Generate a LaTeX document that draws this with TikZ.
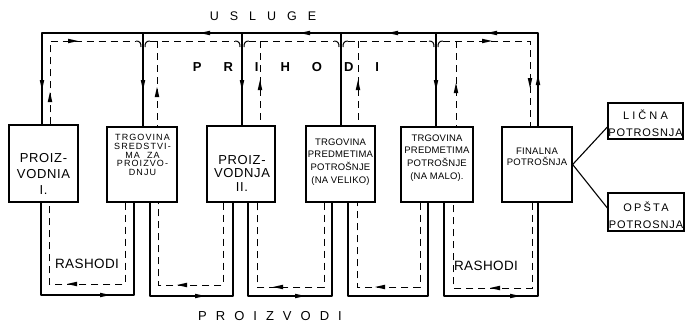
\documentclass[tikz,border=0pt]{standalone}
\usepackage{fontspec}
\setmainfont{Liberation Sans}
\tikzset{
  flow/.style={line width=1.2pt, line join=round},
  ret/.style={line width=1pt, dash pattern=on 7pt off 5pt},
  dip/.style={line width=1pt},
  box/.style={draw, line width=1.3pt, inner sep=0pt},
  head/.style={fill=black},
  lbl/.style={align=center, inner sep=0pt},
  bigtxt/.style={font={\fontsize{13}{16}\selectfont\addfontfeature{LetterSpace=5}}},
  smalltxt/.style={font={\fontsize{9.5}{12.7}\selectfont\addfontfeature{LetterSpace=2}}},
}
\begin{document}
\begin{tikzpicture}[x=1pt,y=-1pt]
\useasboundingbox (0,0) rectangle (685,324);

% boxes
\node[box, minimum width=69pt, minimum height=77pt] (b1) at (43.5,163.5) {};
\node[box, minimum width=70pt, minimum height=75pt] (b2) at (142,164.5) {};
\node[box, minimum width=68pt, minimum height=76pt] (b3) at (241,164) {};
\node[box, minimum width=69pt, minimum height=76pt] (b4) at (340.5,164) {};
\node[box, minimum width=72pt, minimum height=75pt] (b5) at (437,164.5) {};
\node[box, minimum width=70pt, minimum height=75pt] (b6) at (537,164.5) {};
\node[box, minimum width=75pt, minimum height=36pt] (bl) at (645.5,121) {};
\node[box, minimum width=76pt, minimum height=38pt] (bo) at (646,212) {};

% box texts
\node[lbl, bigtxt] (t1) at (43.5,174) {PROIZ-\\VODNIA\\I.};
\node[lbl, font={\fontsize{9}{8.8}\selectfont\addfontfeature{LetterSpace=12}}] (t2) at (142.5,155) {TRGOVINA\\SREDSTVI-\\MA\ \ ZA\\PROIZVO-\\DNJU};
\node[lbl, font={\fontsize{13}{13.5}\selectfont\addfontfeature{LetterSpace=5}}] (t3) at (242,173) {PROIZ-\\VODNJA\\II.};
\node[lbl, smalltxt] (t4) at (340.5,162) {TRGOVINA\\PREDMETIMA\\POTROŠNJE\\(NA VELIKO)};
\node[lbl, smalltxt] (t5) at (437,158) {TRGOVINA\\PREDMETIMA\\POTROŠNJE\\(NA MALO).};
\node[lbl, font={\fontsize{9.5}{10.8}\selectfont\addfontfeature{LetterSpace=3}}] (t6) at (537,157) {FINALNA\\POTROŠNJA};
\node[lbl, font={\fontsize{11}{17}\selectfont\addfontfeature{LetterSpace=8}}] (tl) at (645.5,123) {{\addfontfeature{LetterSpace=28}LIČNA}\\POTROSNJA};
\node[lbl, font={\fontsize{11}{17}\selectfont\addfontfeature{LetterSpace=8}}] (to) at (646,215) {{\addfontfeature{LetterSpace=20}OPŠTA}\\POTROSNJA};

% titles
\node[lbl, font=\fontsize{12.5}{14}\selectfont] (us) at (263,16) {U\hspace{11pt}S\hspace{11pt}L\hspace{11pt}U\hspace{11pt}G\hspace{11pt}E};
\node[lbl, font=\fontsize{13}{15}\selectfont\bfseries] (pr) at (286,67) {P\hspace{22pt}R\hspace{22pt}I\hspace{22pt}H\hspace{22pt}O\hspace{22pt}D\hspace{22pt}I};
\node[lbl, font=\fontsize{13}{15}\selectfont] (pz) at (270,316) {P\hspace{9pt}R\hspace{9pt}O\hspace{9pt}I\hspace{9pt}Z\hspace{9pt}V\hspace{9pt}O\hspace{9pt}D\hspace{9pt}I};
\node[lbl, font={\fontsize{13.5}{15}\selectfont\addfontfeature{LetterSpace=3}}] (r1) at (87,264) {RASHODI};
\node[lbl, font={\fontsize{13.5}{15}\selectfont\addfontfeature{LetterSpace=3}}] (r2) at (486,266) {RASHODI};

% top solid (USLUGE)
\draw[flow] (b6.north -| 538,0) -- (538,33) -- (42,33) -- (42,0 |- b1.north);
\draw[flow] (143,33) -- (143,0 |- b2.north);
\draw[flow] (242,33) -- (242,0 |- b3.north);
\draw[flow] (341,33) -- (341,0 |- b4.north);
\draw[flow] (436,33) -- (436,0 |- b5.north);

% top dashed (PRIHODI)
\draw[ret] (50,0 |- b1.north) -- (50,41) -- (136,41);
\draw[ret] (150,41) -- (235,41);
\draw[ret] (249,41) -- (334,41);
\draw[ret] (348,41) -- (429,41);
\draw[ret] (443,41) -- (530,41) -- (530,0 |- b6.north);
\foreach \c in {143,242,341,436} {
  \draw[dip] (\c-7,41) .. controls (\c-3,41) and (\c-2,43) .. (\c-2,47);
  \draw[dip] (\c+2,47) .. controls (\c+2,43) and (\c+3,41) .. (\c+7,41);
}
\draw[ret] (157,41) -- (157,0 |- b2.north);
\draw[ret] (260,41) -- (260,0 |- b3.north);
\draw[ret] (358,41) -- (358,0 |- b4.north);
\draw[ret] (456,41) -- (456,0 |- b5.north);

% bottom loops (PROIZVODI solid, RASHODI dashed)
\draw[flow] (41,0 |- b1.south) -- (41,295) -- (134,295) -- (134,0 |- b2.south);
\draw[ret] (125,0 |- b2.south) -- (125,284) -- (49,284) -- (49,0 |- b1.south);
\draw[flow] (150,0 |- b2.south) -- (150,296) -- (233,296) -- (233,0 |- b3.south);
\draw[ret] (223,0 |- b3.south) -- (223,285) -- (158,285) -- (158,0 |- b2.south);
\draw[flow] (248,0 |- b3.south) -- (248,296) -- (332,296) -- (332,0 |- b4.south);
\draw[ret] (324,0 |- b4.south) -- (324,287) -- (257,287) -- (257,0 |- b3.south);
\draw[flow] (348,0 |- b4.south) -- (348,296) -- (428,296) -- (428,0 |- b5.south);
\draw[ret] (420,0 |- b5.south) -- (420,287) -- (357,287) -- (357,0 |- b4.south);
\draw[flow] (444,0 |- b5.south) -- (444,296) -- (538,296) -- (538,0 |- b6.south);
\draw[ret] (532,0 |- b6.south) -- (532,288) -- (453,288) -- (453,0 |- b5.south);

% arrowheads: left, right, down, up
\foreach \x/\y in {205/33,305/33,393/33,492/33,72/284,182/285,278/287,380/287,495/288}
  { \fill[head] (\x-5,\y) -- (\x+5,\y-2.3) -- (\x+5,\y+2.3) -- cycle; }
\foreach \x/\y in {73/41,487/41,105/295,200/296,300/296,515/296}
  { \fill[head] (\x+5,\y) -- (\x-5,\y-2.3) -- (\x-5,\y+2.3) -- cycle; }
\foreach \x/\y in {42/85,143/85,242/85,436/85,530/83}
  { \fill[head] (\x,\y+5) -- (\x-2.3,\y-5) -- (\x+2.3,\y-5) -- cycle; }
\foreach \x/\y in {50/97,157/92,260/85,358/85,456/88,538/80}
  { \fill[head] (\x,\y-5) -- (\x-2.3,\y+5) -- (\x+2.3,\y+5) -- cycle; }

% to personal / public consumption
\draw[line width=1.1pt] (b6.east) -- (bl.west |- 0,127);
\draw[line width=1.1pt] (b6.east) -- (bo.west |- 0,208);
\end{tikzpicture}
\end{document}
